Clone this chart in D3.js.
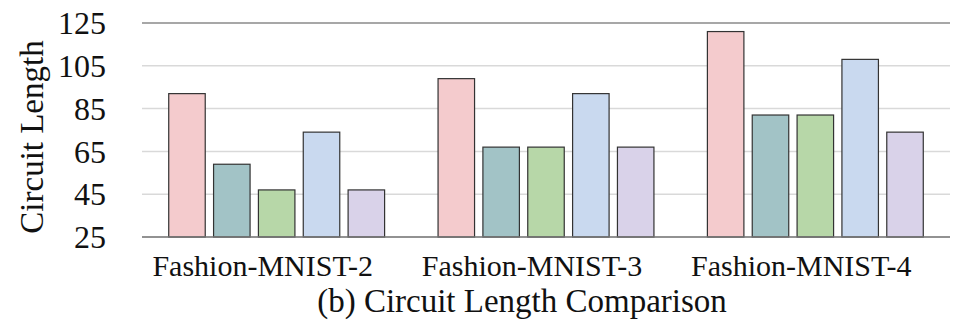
<!DOCTYPE html>
<html>
<head>
<meta charset="utf-8">
<script src="https://cdn.jsdelivr.net/npm/d3@7/dist/d3.min.js"></script>
<style>
  body { margin: 0; background: #fff; }
  svg text { font-family: "Liberation Serif", "Times New Roman", serif; fill: #111; }
</style>
</head>
<body>
<svg id="chart" width="959" height="321"></svg>
<script>
/**
 *   Circuit length comparison, grouped bars
 */

var categories = ['Fashion-MNIST-2', 'Fashion-MNIST-3', 'Fashion-MNIST-4'];
var series     = ['s1', 's2', 's3', 's4', 's5'];
var colors     = ['#f4cbcd', '#a2c3c6', '#b7d7a8', '#c9d9ef', '#d9d2e9'];

// one array per series, values per dataset
var s1 = [92, 99, 121];
var s2 = [59, 67, 82];
var s3 = [47, 67, 82];
var s4 = [74, 92, 108];
var s5 = [47, 67, 74];

var yTicks = [25, 45, 65, 85, 105, 125];

var values = [s1, s2, s3, s4, s5];

var svg     = d3.select("#chart");
var plotL   = 142, plotR = 950, plotT = 23, plotB = 237;

var x0 = d3.scaleBand().domain(categories).range([plotL, plotR]).padding(0);
var x1 = d3.scaleBand().domain(series).range([0, x0.bandwidth()])
           .paddingInner(0.186).paddingOuter(0.596);
var y  = d3.scaleLinear().domain([25, 125]).range([plotB, plotT]);

// grid lines
svg.append("g").selectAll("line")
    .data(yTicks).enter().append("line")
    .attr("x1", plotL).attr("x2", plotR)
    .attr("y1", function(d) { return y(d); })
    .attr("y2", function(d) { return y(d); })
    .attr("stroke", function(d) { return d == 125 ? "#8a8a8a" : "#d9d9d9"; })
    .attr("stroke-width", 1.5);

// tick labels
svg.append("g").selectAll("text")
    .data(yTicks).enter().append("text")
    .attr("x", 106)
    .attr("y", function(d) { return y(d); })
    .attr("dy", "0.35em")
    .attr("text-anchor", "end")
    .style("font-size", "32px")
    .text(function(d) { return d; });

// bars
var group = svg.append("g").selectAll("g")
    .data(categories).enter().append("g")
    .attr("transform", function(d) { return "translate(" + x0(d) + ",0)"; });

group.selectAll("rect")
    .data(function(d, i) { return series.map(function(s, j) { return { s: s, j: j, v: values[j][i] }; }); })
    .enter().append("rect")
    .attr("x", function(d) { return x1(d.s); })
    .attr("y", function(d) { return y(d.v); })
    .attr("width", x1.bandwidth())
    .attr("height", function(d) { return y(25) - y(d.v); })
    .attr("fill", function(d) { return colors[d.j]; })
    .attr("stroke", "#333")
    .attr("stroke-width", 1.2);

// baseline
svg.append("line")
    .attr("x1", plotL).attr("x2", plotR)
    .attr("y1", y(25)).attr("y2", y(25))
    .attr("stroke", "#777").attr("stroke-width", 1.5);

// category labels
svg.append("g").selectAll("text")
    .data(categories).enter().append("text")
    .attr("x", function(d) { return x0(d) + x0.bandwidth() / 2 - 14; })
    .attr("y", 276)
    .attr("text-anchor", "middle")
    .style("font-size", "30px")
    .text(function(d) { return d; });

// axis title
svg.append("text")
    .attr("transform", "translate(43,137) rotate(-90)")
    .attr("text-anchor", "middle")
    .style("font-size", "33px")
    .text("Circuit Length");

// caption
svg.append("text")
    .attr("x", 522).attr("y", 312)
    .attr("text-anchor", "middle")
    .style("font-size", "33px")
    .text("(b) Circuit Length Comparison");
</script>
</body>
</html>
